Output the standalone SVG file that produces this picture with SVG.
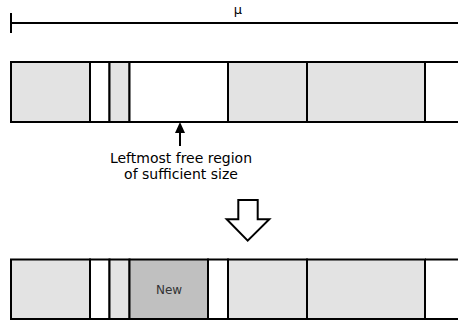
<svg xmlns="http://www.w3.org/2000/svg" width="458" height="320" viewBox="0 0 458 320">
<style>
.ln{stroke:#000;stroke-width:2;fill:none}
.used{fill:#e3e3e3;stroke:#000;stroke-width:2}
.free{fill:#fff;stroke:#000;stroke-width:2}
.new{fill:#c0c0c0;stroke:#000;stroke-width:2}
.t{font-family:"DejaVu Sans",sans-serif;font-size:14px;fill:#000;text-anchor:middle}
.tm{font-family:"DejaVu Sans",sans-serif;font-size:13px;fill:#000;text-anchor:middle}
.tn{font-family:"DejaVu Sans",sans-serif;font-size:12px;fill:#333;text-anchor:middle}
</style>
<g id="scale">
<line class="ln" x1="11" y1="23" x2="458" y2="23"/>
<line class="ln" x1="11" y1="13" x2="11" y2="33"/>
<text class="tm" x="238" y="14">μ</text>
</g>
<g id="before">
<rect class="used" x="11" y="62" width="79" height="60"/>
<rect class="free" x="90" y="62" width="19.5" height="60"/>
<rect class="used" x="109.5" y="62" width="20" height="60"/>
<rect class="free" x="129.5" y="62" width="98.5" height="60"/>
<rect class="used" x="228" y="62" width="79" height="60"/>
<rect class="used" x="307" y="62" width="118" height="60"/>
<path class="ln" d="M425 62H459M425 122H459M425 62V122"/>
</g>
<g id="label">
<line class="ln" x1="180" y1="132" x2="180" y2="146"/>
<polygon points="180,122 175,133 185,133" fill="#000"/>
<text class="t" x="181" y="162.5">Leftmost free region</text>
<text class="t" x="181" y="179">of sufficient size</text>
</g>
<g id="transition">
<polygon points="238.3,200 257.7,200 257.7,219.3 269.3,219.3 247.7,240.7 226.7,219.3 238.3,219.3" fill="#fff" stroke="#000" stroke-width="2"/>
</g>
<g id="after">
<rect class="used" x="11" y="259.5" width="79" height="59.5"/>
<rect class="free" x="90" y="259.5" width="19.5" height="59.5"/>
<rect class="used" x="109.5" y="259.5" width="20" height="59.5"/>
<rect class="new" x="129.5" y="259.5" width="78.5" height="59.5"/>
<rect class="free" x="208" y="259.5" width="20" height="59.5"/>
<rect class="used" x="228" y="259.5" width="79" height="59.5"/>
<rect class="used" x="307" y="259.5" width="118" height="59.5"/>
<path class="ln" d="M425 259.5H459M425 319H459M425 259.5V319"/>
<text class="tn" x="169" y="294">New</text>
</g>
</svg>
